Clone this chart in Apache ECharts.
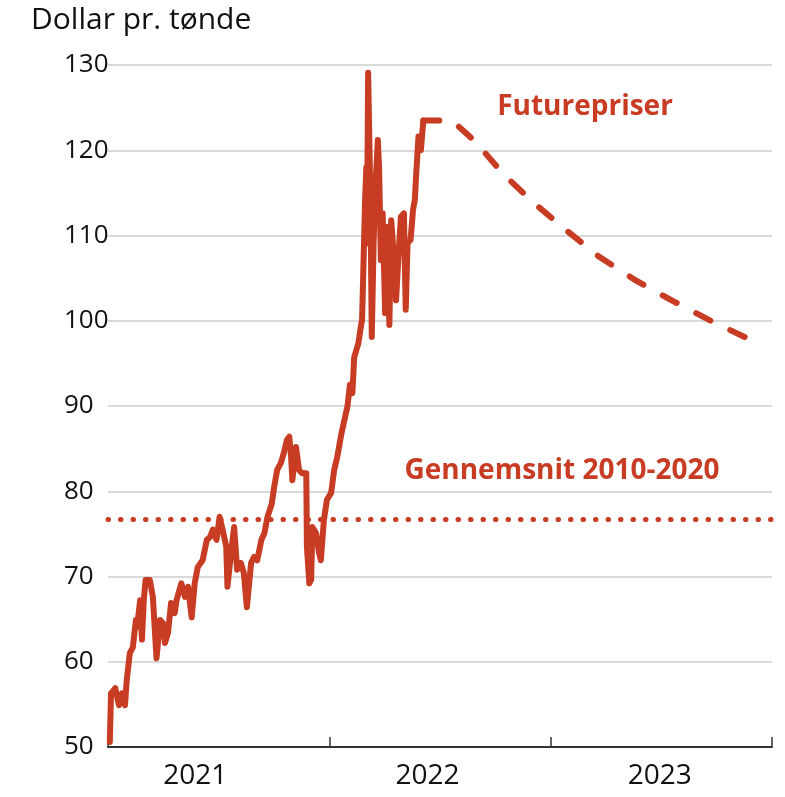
<!DOCTYPE html>
<html>
<head>
<meta charset="utf-8">
<script src="https://cdn.jsdelivr.net/npm/echarts@6/dist/echarts.min.js"></script>
<style>
  html, body { margin: 0; padding: 0; background: #fff; }
  #chart { width: 785px; height: 797px; }
</style>
</head>
<body>
<div id="chart"></div>
<script>
// Brent spot, dollar per barrel
var histDates = [
  '2021-01-04','2021-01-06','2021-01-13','2021-01-19','2021-01-24','2021-01-29','2021-02-01','2021-02-06',
  '2021-02-11','2021-02-16','2021-02-18','2021-02-23','2021-02-26','2021-03-01','2021-03-04','2021-03-11',
  '2021-03-16','2021-03-22','2021-03-28','2021-04-02','2021-04-05','2021-04-10','2021-04-15','2021-04-21',
  '2021-04-24','2021-05-02','2021-05-08','2021-05-13','2021-05-19','2021-05-24','2021-05-29','2021-06-06',
  '2021-06-13','2021-06-18','2021-06-23','2021-06-29','2021-07-04','2021-07-09','2021-07-15','2021-07-17',
  '2021-07-23','2021-07-28','2021-08-02','2021-08-08','2021-08-13','2021-08-18','2021-08-25','2021-08-30',
  '2021-09-04','2021-09-11','2021-09-16','2021-09-21','2021-09-28','2021-10-02','2021-10-07','2021-10-13',
  '2021-10-18','2021-10-23','2021-10-27','2021-10-30','2021-11-01','2021-11-07','2021-11-12','2021-11-17',
  '2021-11-24','2021-11-25','2021-11-29','2021-12-02','2021-12-04','2021-12-10','2021-12-15','2021-12-18',
  '2021-12-23','2021-12-28','2022-01-04','2022-01-09','2022-01-14','2022-01-21','2022-01-26','2022-01-31',
  '2022-02-04','2022-02-08','2022-02-11','2022-02-18','2022-02-22','2022-02-24','2022-03-01','2022-03-03',
  '2022-03-04','2022-03-06','2022-03-10','2022-03-12','2022-03-15','2022-03-18','2022-03-22','2022-03-24',
  '2022-03-27','2022-03-30','2022-04-03','2022-04-06','2022-04-10','2022-04-13','2022-04-17','2022-04-21',
  '2022-04-25','2022-04-29','2022-05-04','2022-05-07','2022-05-10','2022-05-15','2022-05-19','2022-05-22',
  '2022-05-24','2022-05-28','2022-06-01','2022-06-05'
];
var histValues = [
  50.6, 56.3, 56.9, 54.9, 56.3, 54.9, 57.9, 61.0,
  61.7, 64.9, 64.1, 67.2, 62.6, 67.2, 69.6, 69.6,
  67.6, 60.4, 64.9, 64.5, 62.2, 63.4, 66.9, 65.7,
  67.2, 69.2, 67.6, 68.8, 65.2, 69.2, 71.1, 71.9,
  74.3, 74.6, 75.5, 74.3, 77.0, 75.5, 73.5, 68.8,
  72.8, 75.8, 70.8, 71.6, 70.4, 66.4, 71.6, 72.3,
  71.9, 74.3, 75.1, 77.0, 78.5, 80.5, 82.5, 83.3,
  84.5, 86.0, 86.4, 84.0, 81.3, 85.2, 82.5, 82.1,
  82.1, 73.5, 69.2, 69.6, 75.8, 75.1, 72.8, 71.9,
  76.6, 79.0, 79.8, 82.5, 84.0, 86.8, 88.4, 90.0,
  92.5, 91.5, 95.7, 97.4, 99.3, 100.1, 114.2, 118.0,
  109.1, 129.1, 113.0, 98.1, 109.1, 115.7, 121.2, 118.0,
  107.1, 112.6, 100.9, 111.0, 99.5, 111.8, 108.0, 102.4,
  107.5, 112.2, 112.6, 101.3, 109.1, 109.5, 113.0, 114.2,
  116.9, 121.6, 120.0, 123.5
];

// futures curve
var futDates = ['2022-06-05','2022-07-22','2022-08-30','2022-10-15','2022-12-03','2023-01-27',
  '2023-03-22','2023-05-22','2023-07-22','2023-09-22','2023-12-04'];
var futValues = [123.5, 123.5, 121.0, 117.2, 113.9, 110.6, 107.5, 104.7, 102.3, 100.0, 97.5];

var avg2010_2020 = 76.7;
var yearLabels = ['2021', '2022', '2023'];

var RED = '#c83c23';
var FONT = 'Open Sans';
var DAY = 24 * 3600 * 1000;
var X_MIN = Date.parse('2021-01-01');
var X_MAX = Date.parse('2024-01-01');

function pairs(d, v) {
  return d.map(function (x, i) { return [Date.parse(x), v[i]]; });
}

var myChart = echarts.init(document.getElementById('chart'));
myChart.setOption({
  animation: false,
  title: {
    text: 'Dollar pr. tønde',
    left: 26,
    top: 0,
    textStyle: { fontFamily: FONT, fontSize: 30, fontWeight: 'normal', color: '#111' }
  },
  grid: [
    { left: 108, right: 13, top: 65, bottom: 50 },
    { left: 79, right: 9, top: 65, bottom: 50 }
  ],
  xAxis: [
    {
      type: 'value',
      gridIndex: 0,
      min: X_MIN,
      max: X_MAX,
      interval: 365 * DAY,
      axisLine: { show: true, lineStyle: { color: '#333', width: 2 } },
      axisTick: { show: true, inside: true, length: 10, lineStyle: { color: '#333', width: 1.5 } },
      axisLabel: { show: false },
      splitLine: { show: false }
    },
    {
      type: 'category',
      gridIndex: 1,
      data: yearLabels,
      boundaryGap: true,
      axisLine: { show: false },
      axisTick: { show: false },
      axisLabel: { margin: 15, fontFamily: FONT, fontSize: 28, color: '#111' }
    }
  ],
  yAxis: [
    {
      type: 'value',
      gridIndex: 0,
      min: 50,
      max: 130,
      interval: 10,
      axisLine: { show: false },
      axisTick: { show: false },
      axisLabel: { align: 'left', margin: 44, fontFamily: FONT, fontSize: 26, color: '#111' },
      splitLine: { lineStyle: { color: '#d9d9d9', width: 2 } }
    },
    { type: 'value', gridIndex: 1, show: false, min: 0, max: 1 }
  ],
  graphic: [
    {
      type: 'text', x: 585, y: 107,
      style: { text: 'Futurepriser', fill: RED, font: 'bold 28px "Open Sans"', align: 'center', verticalAlign: 'middle' }
    },
    {
      type: 'text', x: 562, y: 471,
      style: { text: 'Gennemsnit 2010-2020', fill: RED, font: 'bold 28px "Open Sans"', align: 'center', verticalAlign: 'middle' }
    }
  ],
  series: [
    {
      name: 'Gennemsnit',
      type: 'line',
      data: [],
      markLine: {
        silent: true,
        symbol: 'none',
        label: { show: false },
        lineStyle: { color: RED, width: 5, type: [0.5, 12], cap: 'round' },
        data: [{ yAxis: avg2010_2020 }]
      }
    },
    {
      name: 'Futurepriser',
      type: 'line',
      data: pairs(futDates, futValues),
      showSymbol: false,
      lineStyle: { color: RED, width: 6, type: [16, 22], cap: 'round', join: 'round' }
    },
    {
      name: 'Brent',
      type: 'line',
      data: pairs(histDates, histValues),
      showSymbol: false,
      lineStyle: { color: RED, width: 6, cap: 'round', join: 'round' }
    }
  ]
});
</script>
</body>
</html>
